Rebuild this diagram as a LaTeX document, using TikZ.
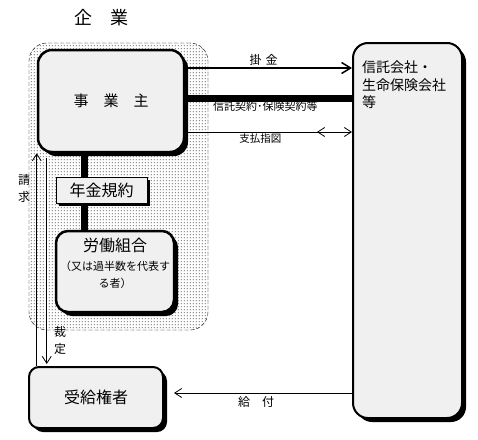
\documentclass[tikz,border=0pt]{standalone}
\usepackage{fontspec}
\setmainfont{Noto Sans CJK JP}
\usetikzlibrary{positioning, patterns, shadows, arrows.meta, decorations.markings}

\newcommand{\jfs}[1]{\fontsize{#1}{#1}\selectfont}
\pgfdeclarepatternformonly{zonedots}{\pgfqpoint{0pt}{0pt}}{\pgfqpoint{3pt}{3pt}}{\pgfqpoint{3pt}{3pt}}{%
  \pgfpathrectangle{\pgfqpoint{1pt}{1pt}}{\pgfqpoint{1.1pt}{1.1pt}}\pgfusepath{fill}}

\begin{document}
\begin{tikzpicture}[x=1pt, y=-1pt,
    zone/.style={rectangle, draw, dash pattern=on 4pt off 2pt, rounded corners=18pt, pattern=zonedots, pattern color=black, minimum width=179pt, minimum height=287pt},
    party/.style={rectangle, draw, line width=2.5pt, fill=black!6, rounded corners=14pt, align=center, drop shadow={shadow xshift=4pt, shadow yshift=-4pt, fill=black, opacity=1}},
    rulebox/.style={rectangle, draw, line width=0.8pt, fill=black!6, drop shadow={shadow xshift=3pt, shadow yshift=-3pt, fill=black, opacity=1}},
    vtip/.tip={Straight Barb[length=7pt, width=9pt, line width=0.8pt]},
    flow/.style={-vtip, line width=0.7pt},
    lbl/.style={inner sep=1.5pt, font=\jfs{11}}]

    \useasboundingbox (0,0) rectangle (478,439);

    % enterprise zone
    \node[zone] (corp) at (118.5,186.5) {};
    \node[inner sep=0pt, font=\jfs{18}] (corpname) at (101,18) {企\quad 業};

    \node[party, minimum width=146pt, minimum height=102pt, font=\jfs{15}] (owner) at (111,101) {事\quad 業\quad 主};
    \node[party, line width=2pt, rounded corners=15pt, minimum width=109pt, minimum height=375pt] (trust) at (407.5,230.5) {};
    \node[below right=19pt and 10pt of trust.north west, align=left, inner sep=0pt, font=\fontsize{14}{17.5}\selectfont] (trustname) {信託会社・\\生命保険会社\\等};
    \node[party, rounded corners=12pt, minimum width=118pt, minimum height=81pt] (union) at (115,271.5) {};
    \node[align=center, inner sep=0pt, font=\fontsize{11}{17}\selectfont] (unionname) at ([yshift=8pt]union.center) {\jfs{16}労働組合\\[2pt]（又は過半数を代表す\\る者）};
    \node[party, line width=2pt, rounded corners=10pt, minimum width=134pt, minimum height=61pt, font=\jfs{16}] (recip) at (96,397.5) {受給権者};

    % pension rules sit on the thick link
    \draw[line width=7pt] ([xshift=-27pt]owner.south) -- ([xshift=-27pt]owner.south |- union.north);
    \node[rulebox, minimum width=91pt, minimum height=26pt, font=\jfs{16}] (rules) at (101.5,190) {年金規約};

    % links to the trust company
    \draw[flow, line width=2pt, vtip/.tip={Straight Barb[length=9pt, width=11pt, line width=1.5pt]}] ([yshift=33pt]owner.east) -- node[lbl, above, pos=0.47, font=\jfs{12}] {掛\hspace{4pt}金} ([yshift=33pt]owner.east -| trust.west);
    \draw[line width=7pt] ([yshift=3pt]owner.east) -- node[lbl, below, inner sep=0pt, pos=0.48] {信託契約･保険契約等} ([yshift=3pt]owner.east -| trust.west);
    \draw[flow, postaction={decorate}, decoration={markings, mark=at position 0.79 with {\arrowreversed{vtip}}}] ([yshift=-31pt]owner.east) -- node[lbl, below, pos=0.45, font=\jfs{10.5}] {支払指図} ([yshift=-31pt]owner.east -| trust.west);
    \draw[flow, shorten >=10pt] ([yshift=4.5pt]recip.east -| trust.west) -- node[lbl, below, inner sep=3pt, pos=0.51, font=\jfs{12}] {給\quad 付} ([yshift=4.5pt]recip.east);

    % claim and award
    \draw[flow] (recip.north -| owner.west) -- (owner.south west);
    \draw[flow, shorten <=5pt, shorten >=2pt] ([xshift=10pt]owner.south west) -- ([xshift=10pt]owner.south west |- recip.north);
    \node[align=center, inner sep=0pt, font=\fontsize{12}{17}\selectfont] (claimlbl) at (24,188) {請\\求};
    \node[align=center, inner sep=0pt, font=\fontsize{12}{17}\selectfont] (awardlbl) at (60,340) {裁\\定};
\end{tikzpicture}
\end{document}
